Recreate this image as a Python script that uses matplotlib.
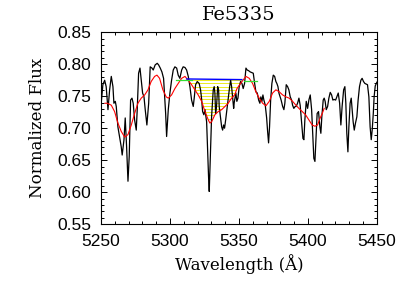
import numpy as np
import matplotlib
matplotlib.use("Agg")
import matplotlib.pyplot as plt
from matplotlib.ticker import MultipleLocator

# ---------------- data ----------------
wave = [5250.2, 5251.4, 5252.7, 5253.8, 5255.1, 5256.3, 5257.5, 5258.7, 5259.4, 5260.4,
        5261.1, 5262.3, 5263.5, 5264.7, 5265.4, 5266.7, 5267.6, 5268.6, 5269.6, 5270.5,
        5271.5, 5272.5, 5273.4, 5274.4, 5275.6, 5276.3, 5277.3, 5278.3, 5279.2, 5280.2,
        5281.2, 5282.1, 5283.3, 5284.6, 5285.7, 5287.0, 5287.9, 5289.3, 5290.8, 5291.8,
        5293.0, 5294.2, 5295.4, 5296.9, 5297.6, 5298.8, 5300.0, 5301.2, 5302.4, 5303.6,
        5304.9, 5306.0, 5307.2, 5308.5, 5309.6, 5310.9, 5312.1, 5313.3, 5314.5, 5315.7,
        5316.9, 5317.6, 5318.6, 5319.8, 5321.2, 5322.2, 5322.9, 5323.7, 5324.6, 5325.4,
        5326.6, 5327.3, 5328.0, 5328.5, 5329.2, 5330.2, 5331.4, 5332.1, 5332.6, 5333.1,
        5333.8, 5334.6, 5335.3, 5335.7, 5336.4, 5337.5, 5338.2, 5338.9, 5339.6, 5340.4,
        5341.3, 5342.2, 5343.3, 5344.0, 5344.7, 5345.4, 5346.2, 5346.6, 5347.8, 5348.5,
        5349.3, 5350.2, 5351.2, 5352.2, 5353.1, 5354.1, 5355.1, 5356.0, 5357.0, 5358.2,
        5359.4, 5360.4, 5361.4, 5362.3, 5363.3, 5364.3, 5365.2, 5365.9, 5366.7, 5367.4,
        5368.1, 5369.1, 5370.1, 5370.8, 5371.5, 5372.2, 5373.0, 5373.9, 5374.9, 5375.9,
        5376.8, 5377.5, 5378.3, 5379.0, 5379.9, 5380.6, 5381.7, 5382.6, 5383.3, 5384.3,
        5385.3, 5386.2, 5387.2, 5388.2, 5388.9, 5389.8, 5390.8, 5391.5, 5392.5, 5393.5,
        5394.4, 5395.4, 5396.4, 5397.1, 5397.8, 5398.8, 5399.8, 5400.7, 5401.7, 5402.7,
        5403.6, 5404.3, 5405.1, 5405.8, 5406.7, 5407.7, 5408.7, 5409.4, 5410.1, 5411.1,
        5411.8, 5412.5, 5413.3, 5414.3, 5415.2, 5416.2, 5417.2, 5418.1, 5419.0, 5420.1,
        5421.0, 5422.0, 5423.0, 5423.9, 5424.8, 5425.9, 5426.8, 5427.5, 5428.2, 5429.0,
        5429.7, 5430.6, 5431.4, 5432.1, 5432.8, 5433.6, 5434.5, 5435.5, 5436.4, 5437.4,
        5438.4, 5439.3, 5440.3, 5441.3, 5442.2, 5443.2, 5444.2, 5445.1, 5445.9, 5446.6,
        5447.4, 5448.0, 5448.8, 5450.0]
flux = [0.739, 0.768, 0.775, 0.765, 0.729, 0.760, 0.781, 0.765, 0.739, 0.742,
        0.734, 0.702, 0.687, 0.671, 0.658, 0.682, 0.716, 0.671, 0.617, 0.656,
        0.744, 0.747, 0.739, 0.713, 0.697, 0.729, 0.786, 0.794, 0.775, 0.755,
        0.749, 0.729, 0.705, 0.739, 0.796, 0.794, 0.791, 0.799, 0.8015, 0.799,
        0.794, 0.788, 0.778, 0.723, 0.687, 0.729, 0.755, 0.775, 0.791, 0.796,
        0.794, 0.783, 0.778, 0.791, 0.796, 0.795, 0.791, 0.781, 0.765, 0.744,
        0.734, 0.747, 0.768, 0.773, 0.770, 0.760, 0.747, 0.726, 0.721, 0.729,
        0.710, 0.666, 0.624, 0.601, 0.650, 0.718, 0.760, 0.765, 0.755, 0.723,
        0.734, 0.765, 0.760, 0.734, 0.721, 0.702, 0.697, 0.705, 0.700, 0.713,
        0.729, 0.744, 0.765, 0.775, 0.765, 0.749, 0.731, 0.740, 0.755, 0.742,
        0.747, 0.765, 0.773, 0.770, 0.762, 0.770, 0.794, 0.791, 0.790, 0.788,
        0.787, 0.786, 0.770, 0.757, 0.755, 0.744, 0.739, 0.749, 0.742, 0.752,
        0.744, 0.736, 0.716, 0.695, 0.677, 0.702, 0.744, 0.770, 0.783, 0.781,
        0.773, 0.770, 0.765, 0.755, 0.749, 0.744, 0.734, 0.729, 0.739, 0.768,
        0.765, 0.760, 0.749, 0.744, 0.736, 0.731, 0.734, 0.734, 0.739, 0.747,
        0.736, 0.710, 0.684, 0.682, 0.713, 0.742, 0.731, 0.744, 0.752, 0.729,
        0.687, 0.653, 0.648, 0.682, 0.723, 0.726, 0.702, 0.692, 0.718, 0.744,
        0.747, 0.742, 0.729, 0.734, 0.747, 0.756, 0.752, 0.744, 0.745, 0.744,
        0.749, 0.755, 0.739, 0.705, 0.734, 0.760, 0.765, 0.739, 0.692, 0.663,
        0.702, 0.739, 0.747, 0.729, 0.710, 0.697, 0.708, 0.718, 0.744, 0.765,
        0.775, 0.778, 0.773, 0.770, 0.769, 0.768, 0.749, 0.702, 0.682, 0.697,
        0.723, 0.749, 0.766, 0.772]

smooth_wave = [5252.9, 5254.6, 5257.5, 5259.9, 5262.3, 5264.7, 5267.2, 5269.6, 5272.0, 5274.4,
               5276.8, 5279.2, 5281.7, 5284.1, 5286.4, 5288.9, 5290.6, 5292.5, 5294.9, 5297.3,
               5298.8, 5301.2, 5303.6, 5306.0, 5308.5, 5310.9, 5313.3, 5315.7, 5318.1, 5320.5,
               5323.0, 5325.4, 5327.8, 5329.0, 5330.2, 5332.6, 5335.0, 5337.5, 5339.9, 5342.2,
               5344.7, 5346.9, 5348.6, 5352.2, 5355.1, 5357.5, 5359.9, 5362.3, 5364.7, 5367.2,
               5369.6, 5372.0, 5374.4, 5376.8, 5379.2, 5381.7, 5384.1, 5386.4, 5388.9, 5391.3,
               5393.5, 5395.9, 5398.3, 5400.7, 5403.1, 5405.1, 5407.0, 5408.9, 5410.4, 5411.8]
smooth_flux = [0.739, 0.739, 0.736, 0.726, 0.708, 0.695, 0.686, 0.690, 0.705, 0.723,
               0.739, 0.747, 0.752, 0.760, 0.773, 0.781, 0.783, 0.778, 0.760, 0.749,
               0.747, 0.752, 0.762, 0.770, 0.778, 0.781, 0.775, 0.768, 0.760, 0.752,
               0.742, 0.726, 0.713, 0.708, 0.710, 0.721, 0.726, 0.729, 0.734, 0.739,
               0.747, 0.752, 0.762, 0.773, 0.781, 0.778, 0.770, 0.757, 0.747, 0.739,
               0.735, 0.742, 0.755, 0.760, 0.757, 0.752, 0.749, 0.747, 0.742, 0.736,
               0.731, 0.726, 0.721, 0.713, 0.705, 0.703, 0.705, 0.716, 0.723, 0.731]

# index definition (Lick Fe5335)
band = [5312.125, 5352.125]
blue_cont = [5304.625, 5315.875]
red_cont = [5353.375, 5363.375]
cont_level_blue = 0.775
cont_level_red = 0.774
band_level = [0.777, 0.776]

title = "Fe5335"
xlabel = "Wavelength (\u00c5)"
ylabel = "Normalized Flux"
xticks = [5250, 5300, 5350, 5400, 5450]
yticks = [0.55, 0.60, 0.65, 0.70, 0.75, 0.80, 0.85]

# ---------------- plot ----------------
fig = plt.figure(figsize=(4.07, 2.91), dpi=100)
ax = fig.add_axes([0.248, 0.230, 0.678, 0.659])

ax.plot(wave, flux, color="black", lw=0.9, zorder=3)
ax.plot(smooth_wave, smooth_flux, color="red", lw=0.8, zorder=4)

# yellow horizontal hatching between pseudo-continuum and smoothed spectrum
bx = np.linspace(band[0], band[1], 200)
by_top = np.interp(bx, band, band_level)
by_bot = np.interp(bx, smooth_wave, smooth_flux)
poly = ax.fill_between(bx, np.minimum(by_bot, by_top), by_top, facecolor="none",
                       edgecolor="none")
levels = np.arange(0.600, 0.780, 0.005)
hl = ax.hlines(levels, band[0], band[1], colors="#e6e600", lw=0.6, zorder=2)
hl.set_clip_path(poly.get_paths()[0], ax.transData)

ax.plot(blue_cont, [cont_level_blue, cont_level_blue], color="#33dd33", lw=0.9, zorder=5)
ax.plot(red_cont, [cont_level_red, cont_level_red], color="#33dd33", lw=0.9, zorder=5)
ax.plot(band, band_level, color="blue", lw=1.0, zorder=6)

ax.set_xlim(5250, 5450)
ax.set_ylim(0.55, 0.85)
tick_font = dict(fontfamily="Liberation Sans", fontsize=12.5)
ax.set_xticks(xticks)
ax.set_yticks(yticks)
ax.set_xticklabels([str(t) for t in xticks], **tick_font)
ax.set_yticklabels([f"{t:.2f}" for t in yticks], **tick_font)
ax.xaxis.set_minor_locator(MultipleLocator(10))
ax.yaxis.set_minor_locator(MultipleLocator(0.01))
ax.tick_params(which="both", direction="in", top=True, right=True, width=0.7)
ax.tick_params(which="major", length=4.5, pad=7)
ax.tick_params(which="minor", length=2.2)
for s in ax.spines.values():
    s.set_linewidth(0.8)

ax.set_title(title, fontsize=14, fontfamily="DejaVu Serif", pad=9)
ax.set_xlabel(xlabel, fontsize=12, fontfamily="DejaVu Serif", labelpad=4)
ax.set_ylabel(ylabel, fontsize=12, fontfamily="DejaVu Serif", labelpad=8)

fig.savefig("out.png", dpi=100)
